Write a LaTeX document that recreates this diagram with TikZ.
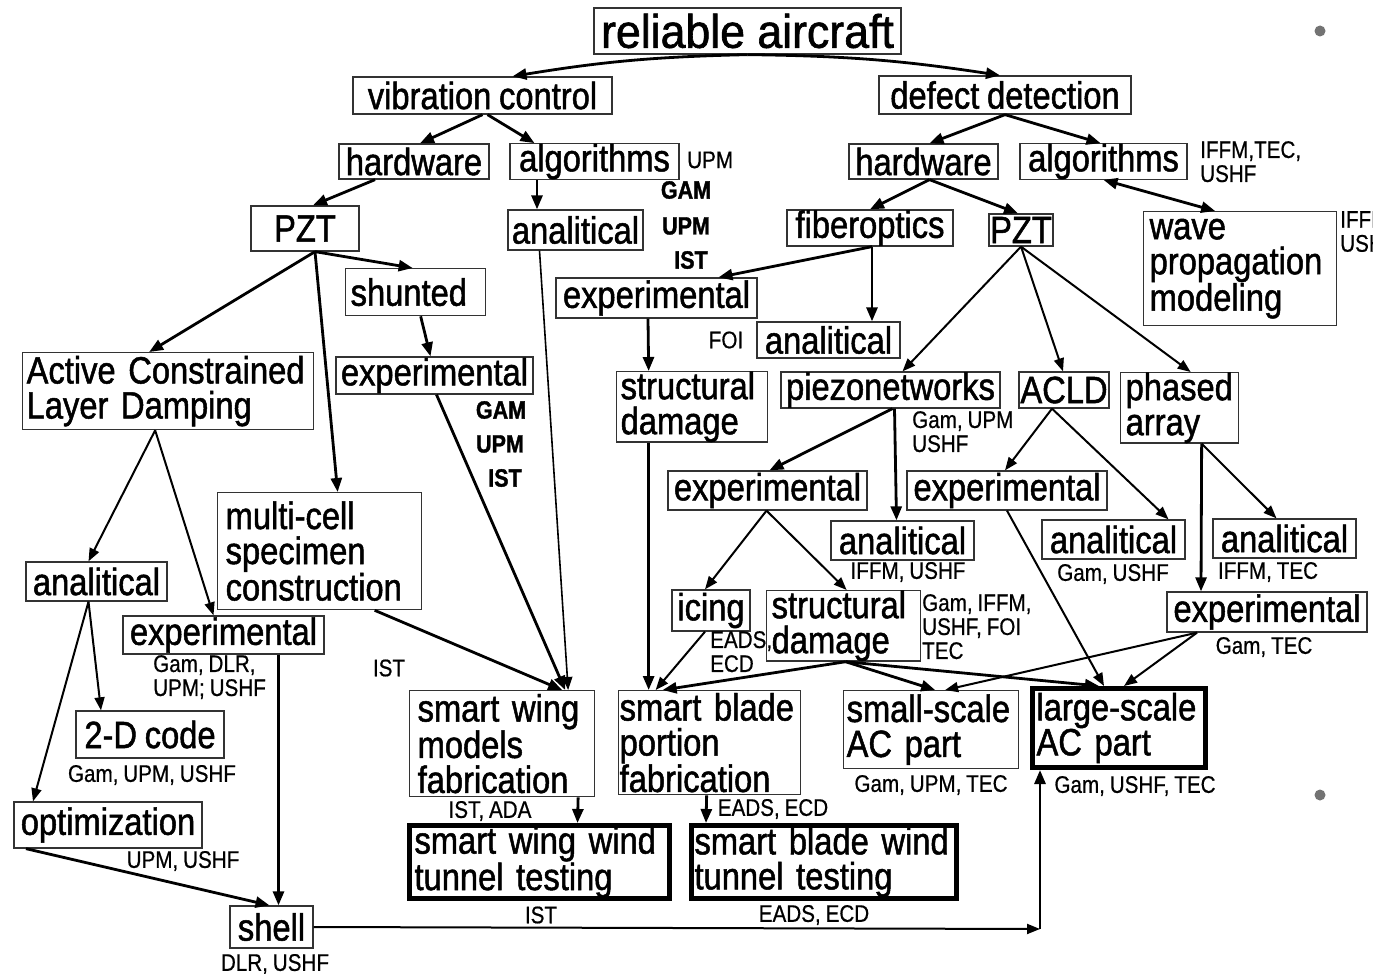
\documentclass[tikz,border=0pt]{standalone}
\usepackage{fontspec}
\usetikzlibrary{arrows.meta}
\newfontfamily\mf[FakeStretch=0.86,FakeBold=1.3,WordSpace=0.85]{Liberation Sans}
\newfontfamily\lf[FakeStretch=0.86,FakeBold=0.6,WordSpace=0.85]{Liberation Sans}
\newfontfamily\tf[FakeStretch=0.95,FakeBold=1.3]{Liberation Sans}
\begin{document}
\begin{tikzpicture}[x=1pt,y=-1pt,
  box/.style={draw=black!80, line width=1.3pt, inner sep=0pt, font=\mf\fontsize{38}{35}\selectfont},
  lbox/.style={box, anchor=north west, align=left, inner xsep=5pt},
  tbox/.style={lbox, line width=5pt, draw=black},
  lab/.style={font=\lf\fontsize{24}{24}\selectfont, inner sep=0pt, align=left},
  blab/.style={font=\mf\bfseries\fontsize{25}{24}\selectfont, inner sep=0pt},
  arr/.style={-{Triangle[length=14pt,width=11pt]}, line width=2.8pt},
  tarr/.style={-{Triangle[length=13pt,width=10pt]}, line width=2pt},
  darr/.style={{Triangle[length=14pt,width=11pt]}-{Triangle[length=14pt,width=11pt]}, line width=2.8pt}]
\fill[white] (0,0) rectangle (1373,974);
\useasboundingbox (0,0) rectangle (1373,974);
\begin{scope}
\clip (0,0) rectangle (1373,974);
% ---------- nodes ----------
\node[box, font=\tf\fontsize{47}{47}\selectfont, minimum width=307pt, minimum height=46pt] (rel) at (747.5,31) {reliable aircraft};
\node[box, minimum width=259pt, minimum height=37pt] (vib) at (482.5,95.5) {vibration control};
\node[box, minimum width=252pt, minimum height=38pt] (def) at (1005,95) {defect detection};
\node[box, minimum width=150pt, minimum height=35pt] (hw1) at (414,161.5) {hardware};
\node[box, minimum width=169pt, minimum height=33pt] (alg1) at (594.5,161.5) {algorithms};
\node[box, minimum width=149pt, minimum height=35pt] (hw2) at (923.5,161.5) {hardware};
\node[box, minimum width=167pt, minimum height=33pt] (alg2) at (1103.5,161.5) {algorithms};
\node[box, minimum width=108pt, minimum height=45pt] (pzt1) at (305,228.5) {PZT};
\node[box, minimum width=135pt, minimum height=40pt] (ana1) at (575.5,230) {analitical};
\node[box, minimum width=166pt, minimum height=36pt] (fib) at (870,228) {fiberoptics};
\node[box, minimum width=64pt, minimum height=32pt] (pzt2) at (1021,230) {PZT};
\node[lbox, inner xsep=6pt, text width=181pt, minimum height=114pt] (wave) at (1143,211) {wave\\propagation\\modeling};
\node[lbox, text width=130pt, minimum height=47pt] (shunted) at (345,268) {shunted};
\node[box, minimum width=201pt, minimum height=40pt] (exp1) at (656.5,298) {experimental};
\node[box, minimum width=143pt, minimum height=36pt] (ana2) at (828.5,340) {analitical};
\node[lbox, inner xsep=4pt, text width=283pt, minimum height=77pt] (acld) at (22,352) {Active Constrained\\Layer Damping};
\node[box, minimum width=197pt, minimum height=37pt] (exp2) at (434.5,375.5) {experimental};
\node[lbox, inner xsep=4pt, text width=143pt, minimum height=69pt] (sd1) at (616,371) {structural\\damage};
\node[box, minimum width=219pt, minimum height=36pt] (piezo) at (890.5,390) {piezonetworks};
\node[box, minimum width=90pt, minimum height=36pt] (acld2) at (1064,390) {ACLD};
\node[lbox, text width=108pt, minimum height=69pt] (phased) at (1120,372) {phased\\array};
\node[box, minimum width=199pt, minimum height=39pt] (exp3) at (767.5,490.5) {experimental};
\node[box, minimum width=200pt, minimum height=39pt] (exp4) at (1007,490.5) {experimental};
\node[box, minimum width=143pt, minimum height=39pt] (ana3) at (902.5,540.5) {analitical};
\node[box, minimum width=143pt, minimum height=39pt] (ana4) at (1113.5,539.5) {analitical};
\node[box, minimum width=143pt, minimum height=39pt] (ana5) at (1284.5,538.5) {analitical};
\node[lbox, inner xsep=8pt, text width=188pt, minimum height=117pt] (mcell) at (217,492) {multi-cell\\specimen\\construction};
\node[box, minimum width=141pt, minimum height=39pt] (ana6) at (96.5,581.5) {analitical};
\node[box, minimum width=201pt, minimum height=38pt] (exp5) at (223.5,635) {experimental};
\node[box, minimum width=78pt, minimum height=41pt] (icing) at (711,610.5) {icing};
\node[lbox, inner xsep=5pt, text width=144pt, minimum height=70pt] (sblank) at (766,590) {structural\\damage};
\node[box, minimum width=200pt, minimum height=40pt] (exp6) at (1267,612) {experimental};
\node[box, minimum width=148pt, minimum height=47pt] (code) at (150,734.5) {2-D code};
\node[box, minimum width=188pt, minimum height=46pt] (opt) at (108,825) {optimization};
\node[box, minimum width=83pt, minimum height=42pt] (shell) at (271.5,927) {shell};
\node[lbox, inner xsep=8pt, text width=169pt, minimum height=106pt] (swing) at (409,690) {smart wing\\models\\fabrication};
\node[lbox, inner xsep=1pt, text width=180pt, minimum height=104pt] (sblade) at (618,690) {smart blade\\portion\\fabrication};
\node[lbox, inner xsep=3pt, text width=169pt, minimum height=78pt] (small) at (843,690) {small-scale\\AC part};
\node[tbox, inner xsep=4pt, text width=165pt, minimum height=79pt] (large) at (1030,686) {large-scale\\AC part};
\node[tbox, text width=250pt, minimum height=73pt] (swt) at (407,823) {smart wing wind\\tunnel testing};
\node[tbox, inner xsep=3pt, text width=259pt, minimum height=73pt] (sbt) at (689,823) {smart blade wind\\tunnel testing};
% ---------- labels ----------
\node[lab, anchor=west] (l1) at (687,160) {UPM};
\node[blab] (l2) at (686,190) {GAM};
\node[blab] (l3) at (686,226) {UPM};
\node[blab] (l4) at (691,260) {IST};
\node[lab, anchor=north west] (l5) at (1200,141) {IFFM,TEC,\\USHF};
\node[lab, anchor=north west] (l6) at (1340,211) {IFFM,\\USHF};
\node[lab] (l7) at (726,340) {FOI};
\node[blab] (l8) at (501,410) {GAM};
\node[blab] (l9) at (500,444) {UPM};
\node[blab] (l10) at (505,478) {IST};
\node[lab, anchor=north west] (l11) at (912,411) {Gam, UPM\\USHF};
\node[lab] (l12) at (908,572) {IFFM, USHF};
\node[lab] (l13) at (1113,574) {Gam, USHF};
\node[lab] (l14) at (1268,572) {IFFM, TEC};
\node[lab, anchor=north west] (l15) at (922,594) {Gam, IFFM,\\USHF, FOI\\TEC};
\node[lab, anchor=north west] (l16) at (710,631) {EADS,\\ECD};
\node[lab] (l17) at (1264,647) {Gam, TEC};
\node[lab, anchor=north west] (l18) at (153,655) {Gam, DLR,\\UPM; USHF};
\node[lab] (l19) at (389,668) {IST};
\node[lab] (l20) at (152,775) {Gam, UPM, USHF};
\node[lab] (l21) at (183,861) {UPM, USHF};
\node[lab] (l22) at (275,964) {DLR, USHF};
\node[lab] (l23) at (490,811) {IST, ADA};
\node[lab] (l24) at (773,809) {EADS, ECD};
\node[lab] (l25) at (931,785) {Gam, UPM, TEC};
\node[lab] (l26) at (1135,786) {Gam, USHF, TEC};
\node[lab] (l27) at (541,915) {IST};
\node[lab] (l28) at (814,915) {EADS, ECD};
% bullets
\fill[black!55] (1320,31) circle (5.5) (1320,795) circle (5.5);
% ---------- connectors ----------
\draw[arr] (rel.south) to[bend right=4] ([xshift=30pt]vib.north);
\draw[arr] (rel.south) to[bend left=4] ([xshift=-5pt]def.north);
\draw[arr] (vib.south) -- ([xshift=6pt]hw1.north);
\draw[arr] ([xshift=5pt]vib.south) -- ([xshift=-60pt]alg1.north);
\draw[arr] ([xshift=-39pt]hw1.south) -- ([xshift=8pt]pzt1.north);
\draw[arr] ([xshift=-57.5pt]alg1.south) -- ([xshift=-38.5pt]ana1.north);
\draw[arr] (def.south) -- ([xshift=6pt]hw2.north);
\draw[arr] (def.south) -- ([xshift=-3pt]alg2.north);
\draw[arr] ([xshift=6pt]hw2.south) -- (fib.north);
\draw[arr] ([xshift=6pt]hw2.south) -- ([xshift=-3pt]pzt2.north);
\draw[darr] (alg2.south) -- ([xshift=-25pt]wave.north);
\draw[arr] ([xshift=10pt]pzt1.south) -- ([xshift=-19pt]acld.north);
\draw[arr] ([xshift=10pt]pzt1.south) -- ([xshift=-3pt]shunted.north);
\draw[arr] ([xshift=10pt]pzt1.south) -- ([xshift=18pt]mcell.north);
\draw[arr] ([xshift=5pt]shunted.south) -- ([xshift=-4pt]exp2.north);
\draw[arr] ([xshift=2pt]fib.south) -- ([xshift=62pt]exp1.north);
\draw[arr] ([xshift=2pt]fib.south) -- ([xshift=43.5pt]ana2.north);
\draw[arr] ([xshift=-8.5pt]exp1.south) -- ([xshift=-43.5pt]sd1.north);
\draw[tarr] (pzt2.south) -- ([xshift=12pt]piezo.north);
\draw[tarr] (pzt2.south) -- ([xshift=-1pt]acld2.north);
\draw[tarr] (pzt2.south) -- ([xshift=11pt]phased.north);
\draw[tarr, line width=1.6pt] ([xshift=-36pt]ana1.south) -- ([xshift=66pt]swing.north);
\draw[arr] ([xshift=2pt]exp2.south) -- ([xshift=63pt]swing.north);
\draw[arr] ([xshift=55pt]mcell.south) -- ([xshift=60pt]swing.north);
\draw[tarr] ([xshift=-13pt]acld.south) -- ([xshift=-8pt]ana6.north);
\draw[tarr] ([xshift=-13pt]acld.south) -- ([xshift=-10pt]exp5.north);
\draw[tarr] ([xshift=-8pt]ana6.south) -- ([xshift=-49pt]code.north);
\draw[tarr] ([xshift=-8pt]ana6.south) -- ([xshift=-75pt]opt.north);
\draw[arr] ([xshift=55pt]exp5.south) -- ([xshift=7pt]shell.north);
\draw[arr] ([xshift=-82pt]opt.south) -- ([xshift=-2pt]shell.north);
\coordinate (corner) at (1040,929);
\draw[tarr] (shell.east) -- (corner);
\draw[arr] (corner) -- (corner |- large.south);
\draw[arr] ([xshift=76pt]swing.south) -- ([xshift=38pt]swt.north);
\draw[arr] ([xshift=-3pt]sblade.south) -- ([xshift=-118pt]sbt.north);
\draw[arr] ([xshift=-43.5pt]sd1.south) -- ([xshift=-61pt]sblade.north);
\draw[tarr] ([xshift=-6pt]icing.south) -- ([xshift=-54pt]sblade.north);
\draw[arr] ([xshift=2pt]sblank.south) -- ([xshift=-47pt]sblade.north);
\draw[arr] ([xshift=2pt]sblank.south) -- ([xshift=4pt]small.north);
\draw[arr] ([xshift=2pt]sblank.south) -- ([xshift=-20pt]large.north);
\draw[tarr] (exp4.south) -- ([xshift=-15pt]large.north);
\draw[tarr] ([xshift=-70pt]exp6.south) -- ([xshift=5pt]large.north);
\draw[tarr] ([xshift=-70pt]exp6.south) -- ([xshift=14pt]small.north);
\draw[arr] ([xshift=2pt]piezo.south) -- ([xshift=2pt]exp3.north);
\draw[arr] ([xshift=4pt]piezo.south) -- ([xshift=-6pt]ana3.north);
\draw[tarr] ([xshift=-1pt]exp3.south) -- ([xshift=-6pt]icing.north);
\draw[tarr] ([xshift=-1pt]exp3.south) -- ([xshift=3pt]sblank.north);
\draw[tarr] ([xshift=-12pt]acld2.south) -- ([xshift=-2pt]exp4.north);
\draw[tarr] ([xshift=-12pt]acld2.south) -- ([xshift=55pt]ana4.north);
\draw[arr] ([xshift=22pt]phased.south) -- ([xshift=-66pt]exp6.north);
\draw[tarr] ([xshift=22pt]phased.south) -- ([xshift=-8pt]ana5.north);
\end{scope}
\end{tikzpicture}
\end{document}
